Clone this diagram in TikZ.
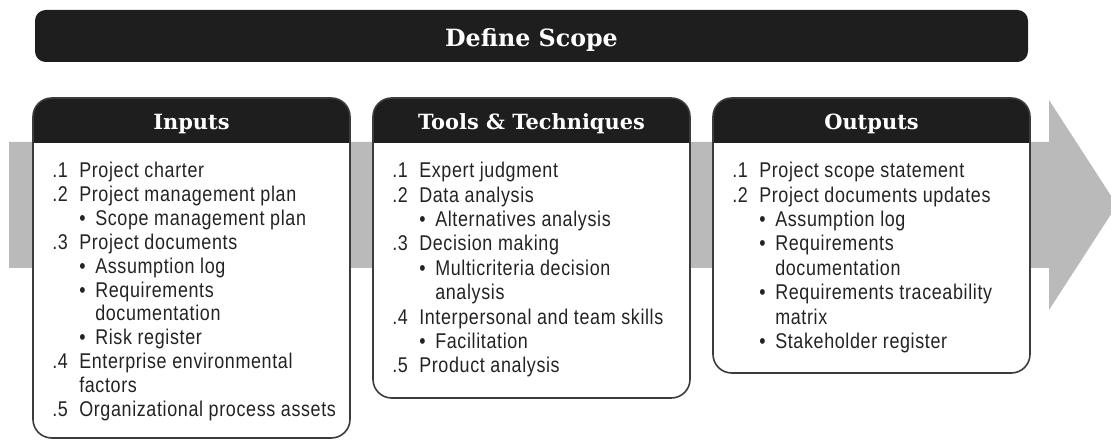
\documentclass[tikz,border=0pt]{standalone}
\usepackage{fontspec}
\usepackage{xcolor}
\setmainfont{Liberation Sans}[FakeStretch=0.84, LetterSpace=3]
\newfontfamily\slabfont{DejaVu Serif}
\usetikzlibrary{positioning}

\definecolor{barblack}{RGB}{30,30,30}
\definecolor{bandgray}{RGB}{186,186,186}
\definecolor{edgegray}{RGB}{60,60,60}
\definecolor{listgray}{RGB}{35,35,35}

\newcommand{\listfont}{\fontsize{16}{17.9}\selectfont}
\newcommand{\widelistfont}{\fontsize{16}{18.3}\selectfont}
\newcommand{\headfont}{\slabfont\bfseries\fontsize{15.7}{18}\selectfont}
\newcommand{\titlefont}{\slabfont\bfseries\fontsize{17.8}{20}\selectfont}
\newcommand{\itm}[2]{\makebox[20.25pt][l]{#1}#2}
\newcommand{\bul}[1]{\hspace*{20.25pt}\makebox[12pt][l]{\textbullet}#1}
\newcommand{\itmcont}[1]{\hspace*{20.25pt}#1}
\newcommand{\bulcont}[1]{\hspace*{32.25pt}#1}

\begin{document}
\begin{tikzpicture}[x=0.75pt,y=0.75pt,
    listtxt/.style={anchor=north west, inner sep=0, align=left, text=listgray, font=\listfont},
    headtxt/.style={anchor=base, text=white, inner sep=0, font=\headfont}]
\useasboundingbox (0,0) rectangle (1111,441);

% grey flow arrow behind the boxes
\fill[bandgray] (9,173) -- (1049,173) -- (1049,131) -- (1117,236)
    -- (1049,341) -- (1049,299) -- (9,299) -- cycle;

% title bar
\fill[barblack, rounded corners=8] (35,379) rectangle (1028,431);
\node[headtxt, font=\titlefont] (title) at (531.5,394) {Define Scope};

% the three boxes
\foreach \x/\yb/\name/\ttl in {33/3/in/Inputs, 373/43/tt/{Tools \& Techniques}, 713/68/out/Outputs} {
    \fill[white, rounded corners=14] (\x,\yb) rectangle (\x+317,343);
    \begin{scope}
        \clip[rounded corners=14] (\x,\yb) rectangle (\x+317,343);
        \fill[barblack] (\x,298) rectangle (\x+317,343);
    \end{scope}
    \draw[edgegray, line width=1.2, rounded corners=14] (\x,\yb) rectangle (\x+317,343);
    \node[headtxt] (\name head) at (\x+158.5,311) {\ttl};
}

\node[listtxt] (inlist) at (52,279) {\itm{.1}{Project charter}\\
    \itm{.2}{Project management plan}\\
    \bul{Scope management plan}\\
    \itm{.3}{Project documents}\\
    \bul{Assumption log}\\
    \bul{Requirements}\\
    \bulcont{documentation}\\
    \bul{Risk register}\\
    \itm{.4}{Enterprise environmental}\\
    \itmcont{factors}\\
    \itm{.5}{Organizational process assets}};

\node[listtxt, font=\widelistfont] (ttlist) at (392,279) {\itm{.1}{Expert judgment}\\
    \itm{.2}{Data analysis}\\
    \bul{Alternatives analysis}\\
    \itm{.3}{Decision making}\\
    \bul{Multicriteria decision}\\
    \bulcont{analysis}\\
    \itm{.4}{Interpersonal and team skills}\\
    \bul{Facilitation}\\
    \itm{.5}{Product analysis}};

\node[listtxt, font=\widelistfont] (outlist) at (732,279) {\itm{.1}{Project scope statement}\\
    \itm{.2}{Project documents updates}\\
    \bul{Assumption log}\\
    \bul{Requirements}\\
    \bulcont{documentation}\\
    \bul{Requirements traceability}\\
    \bulcont{matrix}\\
    \bul{Stakeholder register}};
\end{tikzpicture}
\end{document}
